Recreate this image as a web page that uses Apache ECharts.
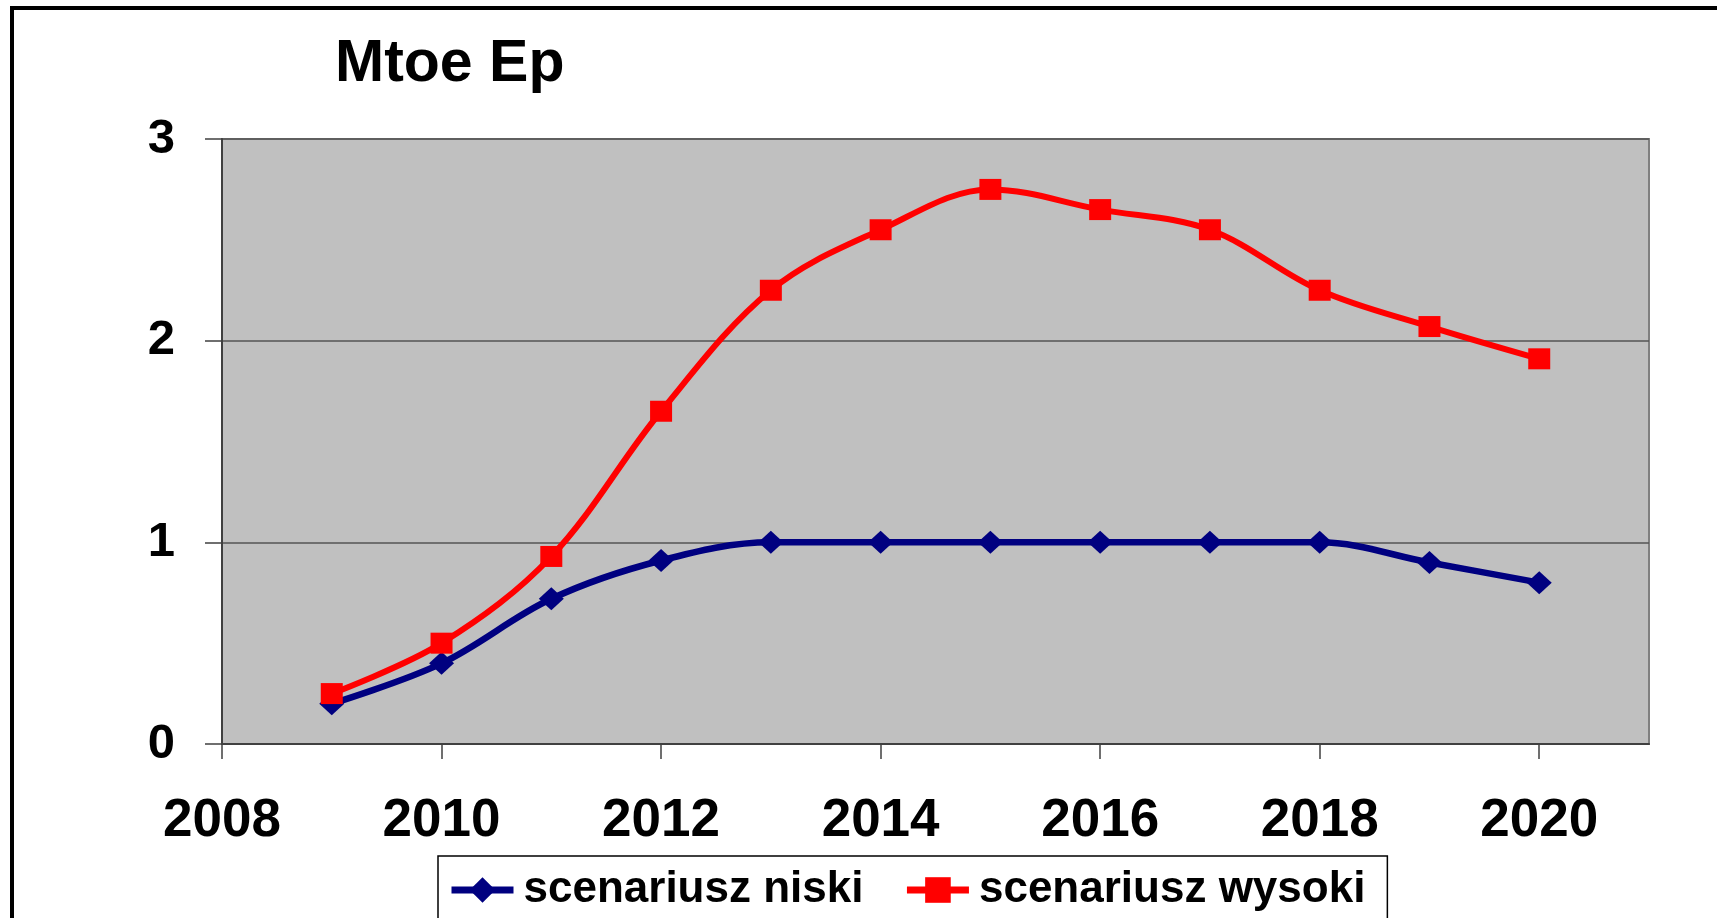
<!DOCTYPE html>
<html>
<head>
<meta charset="utf-8">
<script src="https://cdn.jsdelivr.net/npm/echarts@6/dist/echarts.min.js"></script>
<style>
html,body{margin:0;padding:0;background:#fff;}
#chart{width:1717px;height:918px;}
</style>
</head>
<body>
<div id="chart"></div>
<script>
var years = [2009, 2010, 2011, 2012, 2013, 2014, 2015, 2016, 2017, 2018, 2019, 2020];
var niski = [0.20, 0.40, 0.72, 0.91, 1.00, 1.00, 1.00, 1.00, 1.00, 1.00, 0.90, 0.80];
var wysoki = [0.25, 0.50, 0.93, 1.65, 2.25, 2.55, 2.75, 2.65, 2.55, 2.25, 2.07, 1.91];
var xTicks = [2008, 2010, 2012, 2014, 2016, 2018, 2020];
var yTicks = [0, 1, 2, 3];
var seriesNames = ['scenariusz niski', 'scenariusz wysoki'];
var titleText = 'Mtoe Ep';

function pairs(xs, ys) { return xs.map(function (x, i) { return [x, ys[i]]; }); }

var FONT = '"Liberation Sans", Arial, sans-serif';
var chart = echarts.init(document.getElementById('chart'), null, {renderer: 'canvas'});
chart.setOption({
  animation: false,
  backgroundColor: '#ffffff',
  title: {
    text: titleText,
    left: 330,
    top: 30,
    textStyle: {fontFamily: FONT, fontWeight: 'bold', fontSize: 59, color: '#000'}
  },
  graphic: [{
    type: 'rect',
    shape: {x: 12, y: 8, width: 1800, height: 1000},
    style: {fill: 'none', stroke: '#000', lineWidth: 4},
    silent: true,
    z: 100
  }],
  grid: {
    left: 222, top: 139, width: 1427, height: 605,
    show: true, backgroundColor: '#C0C0C0', borderColor: '#808080', borderWidth: 2,
    containLabel: false
  },
  legend: {
    left: 438, top: 856,
    padding: [12, 22, 30, 10],
    itemGap: 40,
    itemWidth: 62, itemHeight: 32,
    borderColor: '#000', borderWidth: 1.5,
    backgroundColor: '#fff',
    lineStyle: {width: 7},
    textStyle: {fontFamily: FONT, fontWeight: 'bold', fontSize: 44, color: '#000', padding: [0, 0, 0, 5]},
    data: seriesNames
  },
  xAxis: {
    type: 'value', min: 2008, max: 2021, interval: 2,
    axisLine: {show: true, onZero: false, lineStyle: {color: '#404040', width: 2}},
    axisTick: {show: true, length: 15, customValues: xTicks, lineStyle: {color: '#404040', width: 1.5}},
    axisLabel: {
      customValues: xTicks, margin: 51,
      fontFamily: FONT, fontWeight: 'bold', fontSize: 53, color: '#000',
      formatter: function (v) { return String(v); }
    },
    splitLine: {show: false}
  },
  yAxis: {
    type: 'value', min: 0, max: 3, interval: 1,
    axisLine: {show: true, lineStyle: {color: '#404040', width: 2}},
    axisTick: {show: true, length: 17, customValues: yTicks, lineStyle: {color: '#404040', width: 1.5}},
    axisLabel: {
      margin: 47, fontFamily: FONT, fontWeight: 'bold', fontSize: 49, color: '#000'
    },
    splitLine: {show: true, lineStyle: {color: '#555', width: 1.5}}
  },
  series: [{
    name: seriesNames[0], type: 'line', data: pairs(years, niski),
    smooth: 0.35,
    symbol: 'diamond', symbolSize: [25, 23],
    lineStyle: {color: '#000080', width: 6.5},
    itemStyle: {color: '#000080'},
    z: 3
  }, {
    name: seriesNames[1], type: 'line', data: pairs(years, wysoki),
    smooth: 0.35,
    symbol: 'rect', symbolSize: [22, 21],
    lineStyle: {color: '#FF0000', width: 6},
    itemStyle: {color: '#FF0000'},
    z: 4
  }]
});
</script>
</body>
</html>
